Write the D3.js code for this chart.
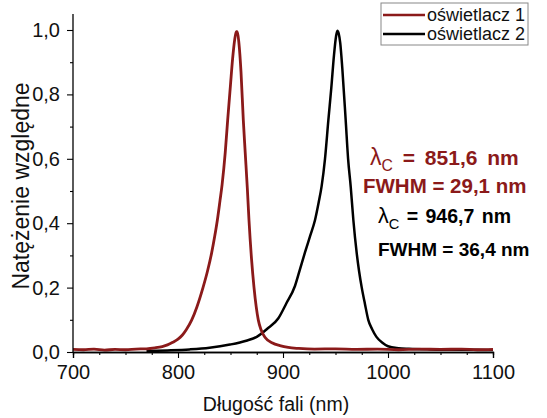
<!DOCTYPE html>
<html>
<head>
<meta charset="utf-8">
<script src="https://cdn.jsdelivr.net/npm/d3@7"></script>
<style>
  html, body { margin: 0; padding: 0; background: #fff; }
  svg { display: block; }
  text { font-family: "Liberation Sans", Arial, sans-serif; }
</style>
</head>
<body>
<svg id="chart" width="547" height="418"></svg>
<script>
// Emission spectra of two illuminators (relative intensity vs wavelength)
const wavelength1 = [700, 710, 720, 730, 740, 750, 760, 770, 778, 785, 790, 795, 800, 804, 808, 813, 818, 823.8, 828, 832, 835, 837.5, 840, 842, 845, 847.3, 850, 852, 854, 855.5, 856.5, 858, 860, 862.2, 864, 866, 867.6, 870, 872.4, 874.5, 876.5, 879, 883, 890, 897, 905, 915, 930, 950, 970, 990, 1010, 1030, 1050, 1070, 1085, 1100];
const intensity1  = [0.008, 0.007, 0.009, 0.006, 0.008, 0.007, 0.009, 0.010, 0.013, 0.017, 0.022, 0.030, 0.040, 0.052, 0.070, 0.099, 0.140, 0.200, 0.250, 0.307, 0.360, 0.410, 0.470, 0.520, 0.620, 0.720, 0.830, 0.910, 0.970, 0.995, 0.995, 0.960, 0.870, 0.720, 0.620, 0.510, 0.410, 0.290, 0.200, 0.140, 0.099, 0.070, 0.045, 0.028, 0.020, 0.014, 0.011, 0.009, 0.010, 0.008, 0.009, 0.007, 0.009, 0.008, 0.009, 0.007, 0.008];

const wavelength2 = [770, 790, 811, 830, 849.5, 865, 875, 885, 895.6, 903, 911.4, 916, 921, 926, 930.5, 934, 936.8, 940, 943.2, 946, 948.5, 950.5, 951.8, 953, 954.5, 956.5, 959.7, 962, 964.5, 967, 970.2, 972.5, 975, 978, 981.2, 985, 989, 995, 1000, 1010, 1020, 1040, 1060, 1080, 1100];
const intensity2  = [0.003, 0.005, 0.008, 0.013, 0.023, 0.035, 0.047, 0.072, 0.105, 0.150, 0.205, 0.255, 0.310, 0.362, 0.410, 0.465, 0.515, 0.600, 0.720, 0.820, 0.920, 0.980, 0.998, 0.990, 0.960, 0.880, 0.720, 0.600, 0.513, 0.410, 0.307, 0.250, 0.200, 0.150, 0.100, 0.070, 0.047, 0.028, 0.018, 0.012, 0.010, 0.008, 0.007, 0.007, 0.006];

const seriesNames = ["oświetlacz 1", "oświetlacz 2"];
const seriesColors = ["#8b1a1a", "#000000"];

const xTicks = [700, 800, 900, 1000, 1100];
const yTicks = [0, 0.2, 0.4, 0.6, 0.8, 1.0];
const yTickLabels = ["0,0", "0,2", "0,4", "0,6", "0,8", "1,0"];

const annotations = [
  { sym: "λ", sub: "C", text: " = 851,6 nm", series: 0 },
  { sym: "", sub: "", text: "FWHM = 29,1 nm", series: 0 },
  { sym: "λ", sub: "C", text: " = 946,7 nm", series: 1 },
  { sym: "", sub: "", text: "FWHM = 36,4 nm", series: 1 }
];

const svg = d3.select("#chart");
const margin = { left: 73, right: 54, top: 14, bottom: 66 };
const W = 547, H = 418;

const x = d3.scaleLinear().domain([700, 1100]).range([margin.left, W - margin.right]);
const y = d3.scaleLinear().domain([0, 1.0]).range([352, 30]);

// axes
const xAxisMajor = d3.axisBottom(x).tickValues(xTicks).tickSize(6).tickFormat(d3.format("d"));
const xAxisMinor = d3.axisBottom(x).tickValues(d3.range(725, 1100, 25).filter(v => v % 100 !== 0)).tickSize(3).tickFormat("");
const yAxisMajor = d3.axisLeft(y).tickValues(yTicks).tickSize(6).tickPadding(7).tickFormat((d, i) => yTickLabels[i]);
const yAxisMinor = d3.axisLeft(y).tickValues([0.1, 0.3, 0.5, 0.7, 0.9]).tickSize(3).tickFormat("");

function styleAxis(g) {
  g.select(".domain").attr("stroke", "#000").attr("stroke-width", 1.3);
  g.selectAll(".tick line").attr("stroke", "#000").attr("stroke-width", 1.1);
  g.selectAll(".tick text").attr("font-size", 20).attr("fill", "#111")
    .attr("font-family", "'Liberation Sans', Arial, sans-serif");
}

// y axis line extends a bit above 1.0
const yAxisTop = 14;

// curves
const line = d3.line().x(d => x(d[0])).y(d => y(d[1])).curve(d3.curveMonotoneX);
const data1 = wavelength1.map((w, i) => [w, intensity1[i]]);
const data2 = wavelength2.map((w, i) => [w, intensity2[i]]);

svg.append("path").datum(data2).attr("d", line)
  .attr("fill", "none").attr("stroke", seriesColors[1]).attr("stroke-width", 2.5).attr("stroke-linejoin", "round");
svg.append("path").datum(data1).attr("d", line)
  .attr("fill", "none").attr("stroke", seriesColors[0]).attr("stroke-width", 2.8).attr("stroke-linejoin", "round");

const gx = svg.append("g").attr("transform", `translate(0,${y(0)})`).call(xAxisMajor);
styleAxis(gx);
gx.selectAll(".tick text").attr("dy", "0.9em");
const gxm = svg.append("g").attr("transform", `translate(0,${y(0)})`).call(xAxisMinor);
styleAxis(gxm);

const gy = svg.append("g").attr("transform", `translate(${x(700)},0)`).call(yAxisMajor);
styleAxis(gy);
gy.select(".domain").attr("d", `M0,${yAxisTop}V${y(0)}`);
const gym = svg.append("g").attr("transform", `translate(${x(700)},0)`).call(yAxisMinor);
styleAxis(gym);
gym.select(".domain").remove();

// axis titles
svg.append("text")
  .attr("x", 276).attr("y", 411)
  .attr("text-anchor", "middle").attr("font-size", 19.5).attr("fill", "#111")
  .text("Długość fali (nm)");
svg.append("text")
  .attr("transform", `translate(29,186) rotate(-90)`)
  .attr("text-anchor", "middle").attr("font-size", 23).attr("fill", "#111")
  .text("Natężenie względne");

// legend
const lg = svg.append("g").attr("transform", "translate(381,3)");
lg.append("rect").attr("x", 0).attr("y", 0).attr("width", 147).attr("height", 42)
  .attr("fill", "#fff").attr("stroke", "#888").attr("stroke-width", 1);
seriesNames.forEach((name, i) => {
  const cy = 12 + i * 19;
  lg.append("line").attr("x1", 2).attr("x2", 44).attr("y1", cy).attr("y2", cy)
    .attr("stroke", seriesColors[i]).attr("stroke-width", 2.6);
  lg.append("text").attr("x", 46).attr("y", cy + 6).attr("font-size", 18).attr("fill", "#111").text(name);
});

// peak annotations
const annPos = [[370, 165], [363, 193], [378, 223], [378, 256]];
const annSize = [21, 20.5, 19.5, 19];
annotations.forEach((a, i) => {
  const fs = annSize[i];
  const t = svg.append("text").attr("x", annPos[i][0]).attr("y", annPos[i][1])
    .attr("font-size", fs).attr("font-weight", "bold").attr("fill", seriesColors[a.series]);
  if (i === 0) t.attr("word-spacing", 4);
  if (i === 2) t.attr("word-spacing", 2);
  if (a.sym) {
    t.append("tspan").attr("font-size", fs * 1.1).attr("font-weight", "normal").text(a.sym);
    t.append("tspan").attr("font-size", fs * 0.75).attr("font-weight", "normal").attr("dy", 6).text(a.sub);
    t.append("tspan").attr("dy", -6).text(a.text);
  } else {
    t.text(a.text);
  }
});
</script>
</body>
</html>
